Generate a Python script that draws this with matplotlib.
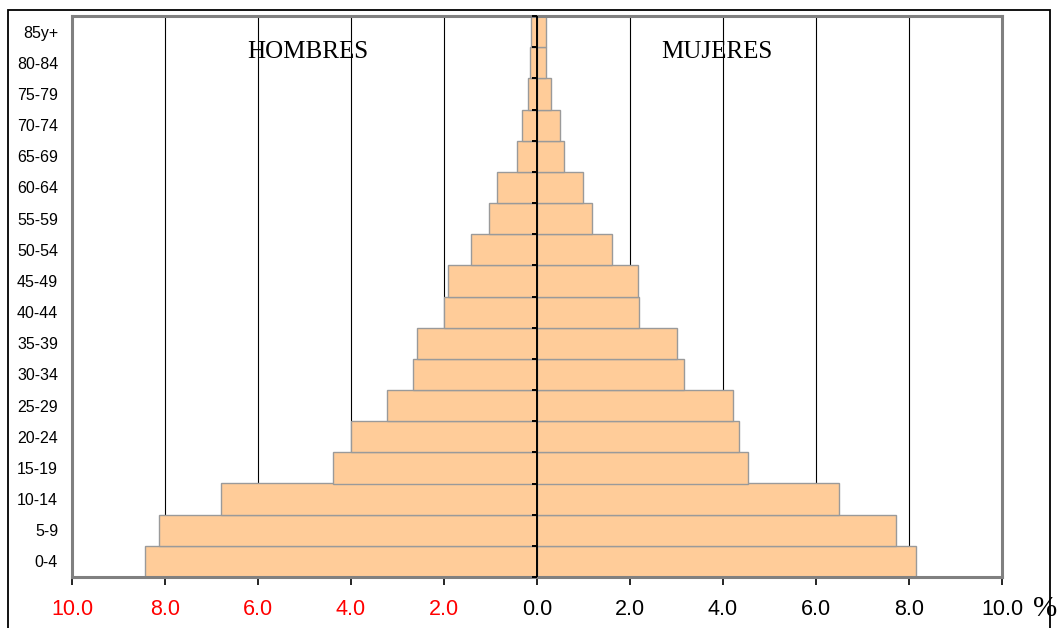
import matplotlib.pyplot as plt
import matplotlib.patches as patches
import numpy as np

# age groups, bottom to top
grupos = ["0-4", "5-9", "10-14", "15-19", "20-24", "25-29", "30-34", "35-39",
          "40-44", "45-49", "50-54", "55-59", "60-64", "65-69", "70-74",
          "75-79", "80-84", "85y+"]

# % of total population
hombres = [8.44, 8.12, 6.79, 4.39, 3.99, 3.23, 2.66, 2.57, 2.01, 1.91,
           1.41, 1.03, 0.86, 0.44, 0.33, 0.19, 0.16, 0.13]
mujeres = [8.14, 7.71, 6.50, 4.53, 4.35, 4.21, 3.16, 3.02, 2.20, 2.17,
           1.62, 1.18, 0.99, 0.58, 0.49, 0.30, 0.19, 0.19]

xticks = [-10, -8, -6, -4, -2, 0, 2, 4, 6, 8, 10]
xlabels = ["10.0", "8.0", "6.0", "4.0", "2.0", "0.0", "2.0", "4.0", "6.0", "8.0", "10.0"]

bar_color = "#FFCC99"
edge_color = "#9a9a9a"

fig = plt.figure(figsize=(10.59, 6.28), dpi=100)
ax = fig.add_axes([72 / 1059, 51 / 628, 930 / 1059, 561 / 628])

# outer frame of the figure
fig.patches.append(patches.Rectangle((8 / 1059, -0.05), 1042 / 1059, 1.05 - 10 / 628,
                                     transform=fig.transFigure, fill=False,
                                     edgecolor="black", linewidth=1.3))

y = np.arange(len(grupos))

# vertical grid lines behind the bars
for v in [-8, -6, -4, -2, 2, 4, 6, 8]:
    ax.axvline(v, color="black", linewidth=0.8, zorder=1)

ax.barh(y, -np.array(hombres), height=1.0, color=bar_color,
        edgecolor=edge_color, linewidth=1.0, zorder=2)
ax.barh(y, mujeres, height=1.0, color=bar_color,
        edgecolor=edge_color, linewidth=1.0, zorder=2)

# central axis with small ticks at group boundaries
ax.axvline(0, color="black", linewidth=1.4, zorder=4)
ax.plot(np.zeros(len(grupos) + 1), np.arange(len(grupos) + 1) - 0.5,
        linestyle="none", marker=[(-1, 0), (0, 0)], markersize=7,
        markeredgewidth=1.4, color="black", zorder=5, clip_on=False)

ax.set_xlim(-10, 10)
ax.set_ylim(-0.5, len(grupos) - 0.5)

ax.set_yticks(y)
ax.set_yticklabels(grupos, fontsize=11.5, family=["Liberation Sans", "DejaVu Sans"])
ax.tick_params(axis="y", length=0, pad=10)

ax.set_xticks(xticks)
ax.set_xticklabels(xlabels, fontsize=15.5, family=["Liberation Sans", "DejaVu Sans"])
ax.tick_params(axis="x", direction="out", length=6, width=1.2, color="black", pad=10)
for lbl, t in zip(ax.get_xticklabels(), xticks):
    lbl.set_color("red" if t < 0 else "black")

for s in ax.spines.values():
    s.set_color("#808080")
    s.set_linewidth(2.2)

ax.text(0.253, 0.935, "HOMBRES", transform=ax.transAxes, ha="center", va="center",
        fontsize=18, family=["Liberation Serif", "DejaVu Serif"])
ax.text(0.693, 0.935, "MUJERES", transform=ax.transAxes, ha="center", va="center",
        fontsize=18, family=["Liberation Serif", "DejaVu Serif"])

fig.text(1045 / 1059, 1 - 609 / 628, "%", ha="center", va="center",
         fontsize=21, family=["Liberation Serif", "DejaVu Serif"])

fig.savefig("out.png", dpi=100)
